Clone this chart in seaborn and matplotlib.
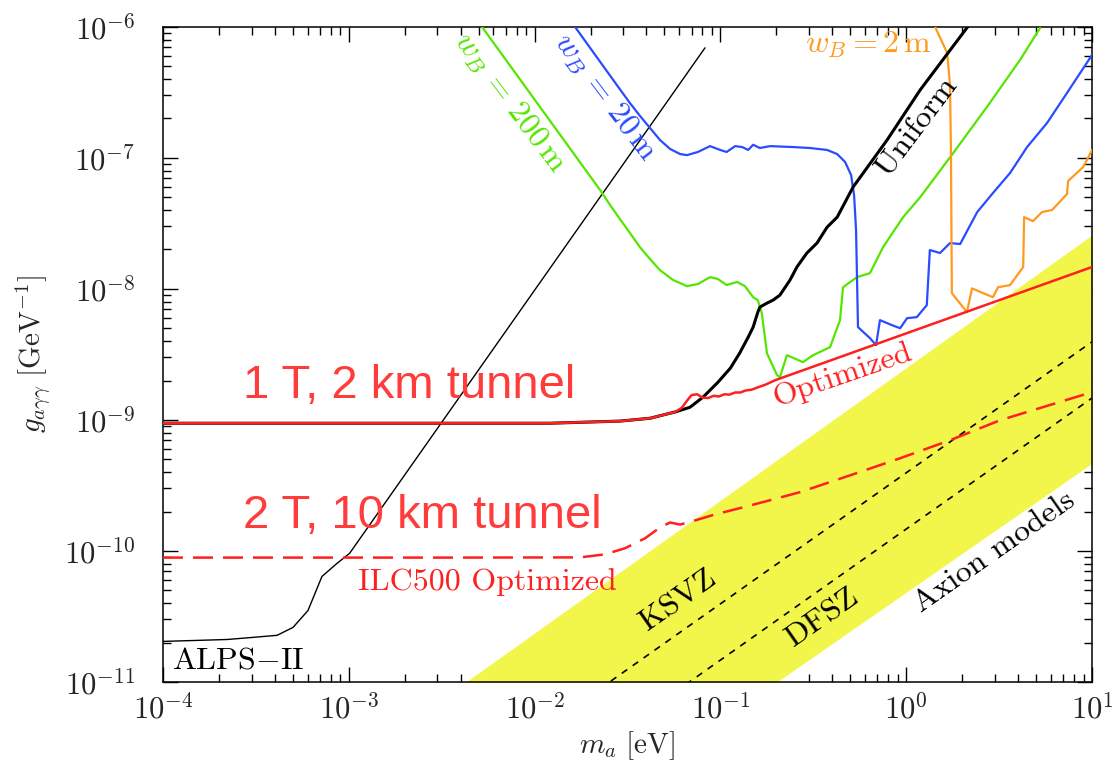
import numpy as np
import pandas as pd
import matplotlib
matplotlib.use("Agg")
import matplotlib.pyplot as plt
import matplotlib.ticker as mticker
import seaborn as sns

# --- data (m_a in eV, g in GeV^-1) ---
ma_optim = [1e-4, 0.0121, 0.0288, 0.0418, 0.057, 0.062, 0.066, 0.070, 0.075, 0.080, 0.086,
            0.092, 0.098, 0.105, 0.112, 0.120, 0.128, 0.137, 0.147, 0.160, 0.175, 0.197, 10]
g_optim = [9.44e-10, 9.44e-10, 9.8e-10, 1.03e-9, 1.15e-9, 1.24e-9, 1.40e-9, 1.55e-9, 1.57e-9,
           1.48e-9, 1.47e-9, 1.53e-9, 1.51e-9, 1.57e-9, 1.56e-9, 1.62e-9, 1.62e-9, 1.68e-9,
           1.70e-9, 1.78e-9, 1.86e-9, 2.01e-9, 1.47e-8]

ma_unif = [1e-4, 0.0121, 0.0288, 0.0418, 0.057, 0.0686, 0.0805, 0.096, 0.113, 0.127, 0.141,
           0.150, 0.159, 0.163, 0.178, 0.192, 0.209, 0.237, 0.258, 0.292, 0.331, 0.375, 0.425,
           0.518, 0.789, 1.19, 2.14]
g_unif = [9.44e-10, 9.44e-10, 9.8e-10, 1.03e-9, 1.15e-9, 1.25e-9, 1.49e-9, 1.91e-9, 2.48e-9,
          3.24e-9, 4.28e-9, 5.11e-9, 6.65e-9, 7.26e-9, 7.79e-9, 8.21e-9, 8.97e-9, 1.17e-8,
          1.47e-8, 1.88e-8, 2.24e-8, 2.96e-8, 3.53e-8, 6.0e-8, 1.37e-7, 3.31e-7, 1e-6]

ma_alps = [1e-4, 2.21e-4, 3.05e-4, 4.11e-4, 5.01e-4, 6.03e-4, 7.17e-4, 8.64e-4, 1.01e-3, 0.0826]
g_alps = [2.04e-11, 2.11e-11, 2.19e-11, 2.27e-11, 2.61e-11, 3.51e-11, 6.39e-11, 8.04e-11,
          9.59e-11, 6.92e-7]

ma_ilc = [1e-4, 3.51e-3, 0.0175, 0.0239, 0.0307, 0.0393, 0.0473, 0.0536, 0.0606, 0.0730,
          0.0935, 0.127, 0.185, 0.268, 0.499, 0.927, 1.72, 3.20, 10]
g_ilc = [8.9e-11, 8.9e-11, 8.93e-11, 9.42e-11, 1.05e-10, 1.25e-10, 1.51e-10, 1.65e-10,
         1.59e-10, 1.71e-10, 1.90e-10, 2.12e-10, 2.44e-10, 2.81e-10, 3.78e-10, 5.10e-10,
         7.0e-10, 9.95e-10, 1.63e-9]

ma_w200 = [5.21e-3, 0.0225, 0.0255, 0.0288, 0.0326, 0.0369, 0.0418, 0.0473, 0.0556, 0.0661,
           0.0757, 0.0879, 0.0970, 0.108, 0.123, 0.1355, 0.150, 0.159, 0.167, 0.178, 0.202,
           0.209, 0.228, 0.278, 0.315, 0.389, 0.440, 0.457, 0.543, 0.638, 0.750, 0.962, 1.19,
           1.79, 2.72, 4.10, 5.25]
g_w200 = [1e-6, 5.69e-8, 4.36e-8, 3.41e-8, 2.67e-8, 2.08e-8, 1.69e-8, 1.39e-8, 1.17e-8,
          1.05e-8, 1.09e-8, 1.23e-8, 1.19e-8, 1.07e-8, 1.13e-8, 1.05e-8, 8.65e-9, 8.21e-9,
          6.53e-9, 3.23e-9, 2.19e-9, 2.12e-9, 3.12e-9, 2.76e-9, 3.12e-9, 3.59e-9, 5.78e-9,
          1.03e-8, 1.23e-8, 1.32e-8, 2.08e-8, 3.53e-8, 5.02e-8, 1.09e-7, 2.45e-7, 5.6e-7,
          9.8e-7]

ma_w20 = [0.0165, 0.0277, 0.0326, 0.0369, 0.0418, 0.0473, 0.0536, 0.0607, 0.0661, 0.0757,
          0.0879, 0.0996, 0.108, 0.120, 0.131, 0.141, 0.150, 0.163, 0.185, 0.246, 0.303,
          0.375, 0.425, 0.469, 0.505, 0.524, 0.537, 0.550, 0.638, 0.688, 0.722, 0.838, 0.927,
          1.01, 1.14, 1.29, 1.34, 1.52, 1.72, 1.95, 2.41, 2.93, 3.62, 4.47, 5.73, 7.33, 10]
g_w20 = [1e-6, 3.6e-7, 2.62e-7, 2.09e-7, 1.69e-7, 1.37e-7, 1.17e-7, 1.07e-7, 1.05e-7,
         1.11e-7, 1.23e-7, 1.15e-7, 1.11e-7, 1.23e-7, 1.21e-7, 1.15e-7, 1.26e-7, 1.19e-7,
         1.23e-7, 1.21e-7, 1.19e-7, 1.15e-7, 1.07e-7, 9.3e-8, 7.4e-8, 5.2e-8, 2.8e-8, 5.11e-9,
         4.21e-9, 3.72e-9, 5.78e-9, 5.29e-9, 5.01e-9, 5.98e-9, 6.09e-9, 7.52e-9, 1.98e-8,
         1.88e-8, 2.24e-8, 2.20e-8, 3.86e-8, 5.40e-8, 7.67e-8, 1.21e-7, 1.85e-7, 3.13e-7,
         6.11e-7]

ma_w2 = [1.43, 1.66, 1.72, 1.74, 1.76, 2.02, 2.12, 2.26, 2.59, 2.93, 3.12, 3.62, 4.26, 4.31,
         4.81, 5.38, 6.09, 7.33, 7.43, 8.95, 10]
g_w2 = [1e-6, 6.33e-7, 3.61e-7, 1.15e-7, 9.29e-9, 7.26e-9, 6.65e-9, 1.01e-8, 9.29e-9,
        8.65e-9, 1.03e-8, 1.07e-8, 1.47e-8, 3.53e-8, 3.29e-8, 3.86e-8, 4.00e-8, 5.30e-8,
        6.66e-8, 8.51e-8, 1.15e-7]

# axion model band and benchmark lines
band_m = [1e-3, 10]
band_hi = [2.3e-12, 2.58e-8]
band_lo = [5.4e-14, 4.67e-10]
ma_ksvz = [1e-2, 10]
g_ksvz = [3.95e-12, 3.95e-9]
ma_dfsz = [1e-2, 10]
g_dfsz = [1.47e-12, 1.47e-9]

# tick decades
x_decades = [1e-4, 1e-3, 1e-2, 1e-1, 1e0, 1e1]
y_decades = [1e-11, 1e-10, 1e-9, 1e-8, 1e-7, 1e-6]

# colours
RED = "#ff1f1f"
GREEN = "#55e600"
BLUE = "#2a4bff"
ORANGE = "#ff9a1f"
YELLOW = "#f2f64a"
TXTRED = "#ff3c3c"

sns.set_style("ticks")
plt.rcParams["mathtext.fontset"] = "cm"
plt.rcParams["font.family"] = ["cmr10", "DejaVu Sans"]
plt.rcParams["axes.formatter.use_mathtext"] = True

fig = plt.figure(figsize=(11.14, 7.68), dpi=100)
ax = fig.add_axes([0.1463, 0.112, 0.834, 0.853])
ax.set_xscale("log")
ax.set_yscale("log")

ax.fill_between(band_m, band_lo, band_hi, color=YELLOW, lw=0, zorder=1)


def draw(m, g, color, lw, dashes=None, z=3):
    df = pd.DataFrame({"m": m, "g": g})
    sns.lineplot(data=df, x="m", y="g", color=color, lw=lw, sort=False,
                 estimator=None, ax=ax, zorder=z)
    if dashes is not None:
        ax.lines[-1].set_dashes(dashes)


draw(ma_ksvz, g_ksvz, "black", 1.2, dashes=(4, 4), z=2)
draw(ma_dfsz, g_dfsz, "black", 1.2, dashes=(4, 4), z=2)
draw(ma_alps, g_alps, "black", 1.0)
draw(ma_w200, g_w200, GREEN, 1.6)
draw(ma_w20, g_w20, BLUE, 1.6)
draw(ma_w2, g_w2, ORANGE, 1.6)
draw(ma_unif, g_unif, "black", 2.2)
draw(ma_ilc, g_ilc, RED, 1.8, dashes=(8, 4))
draw(ma_optim, g_optim, RED, 1.8, z=4)

ax.set_xlim(1e-4, 10)
ax.set_ylim(1e-11, 1e-6)

fmt = mticker.FuncFormatter(lambda v, p: r"$10^{%d}$" % int(round(np.log10(v))))
ax.xaxis.set_major_locator(mticker.FixedLocator(x_decades))
ax.yaxis.set_major_locator(mticker.FixedLocator(y_decades))
ax.xaxis.set_major_formatter(fmt)
ax.yaxis.set_major_formatter(fmt)
ax.xaxis.set_minor_locator(mticker.LogLocator(base=10, subs=np.arange(2, 10), numticks=20))
ax.yaxis.set_minor_locator(mticker.LogLocator(base=10, subs=np.arange(2, 10), numticks=20))
ax.xaxis.set_minor_formatter(mticker.NullFormatter())
ax.yaxis.set_minor_formatter(mticker.NullFormatter())
ax.tick_params(which="both", direction="in", top=True, right=True, width=1.0, color="black")
ax.tick_params(which="major", length=11, labelsize=22)
ax.tick_params(which="minor", length=5.5)
ax.tick_params(axis="x", which="major", pad=8)
ax.tick_params(axis="y", which="major", pad=20)
for s in ax.spines.values():
    s.set_linewidth(1.1)
    s.set_color("black")

ax.set_xlabel(r"$m_a\ [\mathrm{eV}]$", fontsize=21, labelpad=4)
ax.set_ylabel(r"$g_{a\gamma\gamma}\ [\mathrm{GeV}^{-1}]$", fontsize=21, labelpad=8)

# annotations
sans = ["Liberation Sans", "DejaVu Sans"]
ax.text(2.7e-4, 1.47e-9, "1 T, 2 km tunnel", color=TXTRED, fontsize=34, family=sans,
        ha="left", va="baseline", zorder=6)
ax.text(2.7e-4, 1.51e-10, "2 T, 10 km tunnel", color=TXTRED, fontsize=34, family=sans,
        ha="left", va="baseline", zorder=6)
ax.text(1.12e-3, 5.0e-11, "ILC500 Optimized", color=RED, fontsize=23, ha="left",
        va="baseline", zorder=6)
ax.text(1.12e-4, 1.27e-11, r"ALPS$-$II", color="black", fontsize=23, ha="left",
        va="baseline", zorder=6)

rot = dict(ha="center", va="center", rotation_mode="anchor", zorder=6)
ax.text(0.451, 2.19e-9, "Optimized", color=RED, fontsize=23, rotation=19, **rot)
ax.text(1.14, 1.72e-7, "Uniform", color="black", fontsize=23, rotation=53, **rot)
ax.text(7.38e-3, 2.62e-7, r"$w_B\,=\,200\,\mathrm{m}$", color=GREEN, fontsize=23,
        rotation=-53, **rot)
ax.text(0.0239, 2.87e-7, r"$w_B\,=\,20\,\mathrm{m}$", color=BLUE, fontsize=23,
        rotation=-53, **rot)
ax.text(0.622, 7.28e-7, r"$w_B = 2\,\mathrm{m}$", color=ORANGE, fontsize=23, **rot)
ax.text(0.0591, 4.2e-11, "KSVZ", color="black", fontsize=23, rotation=35, **rot)
ax.text(0.356, 3.11e-11, "DFSZ", color="black", fontsize=23, rotation=35, **rot)
ax.text(3.0, 9.75e-11, "Axion models", color="black", fontsize=23, rotation=35, **rot)

fig.savefig("out.png", dpi=100)
